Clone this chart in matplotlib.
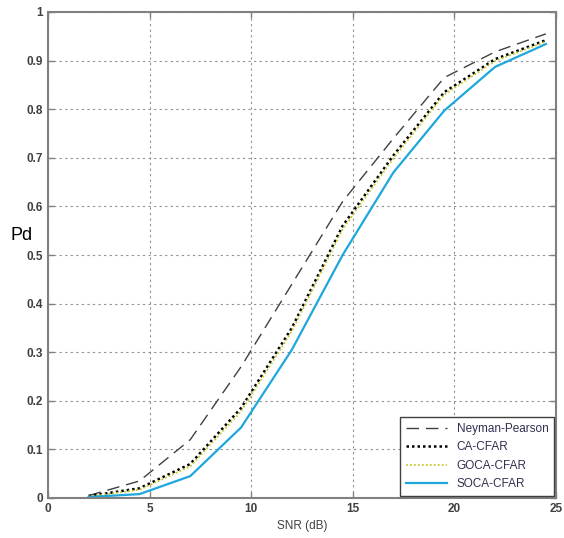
import matplotlib
matplotlib.use('Agg')
import matplotlib.pyplot as plt

# SNR points (dB) and detection probabilities
snr = [2, 4.5, 7, 9.5, 12, 14.5, 17, 19.5, 22, 24.5]
pd_np = [0.005, 0.035, 0.120, 0.270, 0.440, 0.610, 0.740, 0.865, 0.918, 0.955]
pd_ca = [0.004, 0.020, 0.070, 0.185, 0.350, 0.560, 0.705, 0.835, 0.903, 0.942]
pd_goca = [0.003, 0.017, 0.065, 0.178, 0.343, 0.553, 0.699, 0.830, 0.899, 0.939]
pd_soca = [0.002, 0.008, 0.045, 0.145, 0.305, 0.500, 0.670, 0.797, 0.887, 0.934]

plt.rcParams['font.family'] = ['Liberation Sans', 'DejaVu Sans']

fig = plt.figure(figsize=(5.64, 5.38), dpi=100)
ax = fig.add_axes([48 / 564, 1 - 498 / 538, 508 / 564, 486 / 538])

ax.plot(snr, pd_np, color='#404040', lw=1.0, dashes=(9, 5), label='Neyman-Pearson')
ax.plot(snr, pd_ca, color='black', lw=1.8, dashes=(1, 1.2), label='CA-CFAR')
ax.plot(snr, pd_goca, color='#c8c830', lw=1.3, dashes=(1, 1.2), label='GOCA-CFAR')
ax.plot(snr, pd_soca, color='#1ea7dc', lw=1.6, label='SOCA-CFAR')

ax.set_xlim(0, 25)
ax.set_ylim(0, 1)
ax.set_xticks([0, 5, 10, 15, 20, 25])
ax.set_yticks([i / 10 for i in range(11)])
ax.set_yticklabels(['0', '0.1', '0.2', '0.3', '0.4', '0.5', '0.6', '0.7', '0.8', '0.9', '1'])

ax.grid(True, color='#909090', lw=0.8, ls=(0, (2, 3)))
ax.tick_params(direction='in', length=4, width=1, colors='#808080',
               labelcolor='#404040', labelsize=8.5, top=True, right=True)
for lab in ax.get_xticklabels() + ax.get_yticklabels():
    lab.set_fontweight('bold')
for sp in ax.spines.values():
    sp.set_color('#808080')
    sp.set_linewidth(1.5)

ax.set_xlabel('SNR (dB)', fontsize=8.5, color='#404040', labelpad=4)
ax.set_ylabel('Pd', fontsize=13, rotation=0, color='black', va='center', ha='center')
ax.yaxis.set_label_coords(-0.052, 0.54)

leg = ax.legend(loc='lower right', fontsize=8.5, frameon=True, fancybox=False,
                edgecolor='#404040', framealpha=1, borderaxespad=0.15,
                handlelength=3.5, labelspacing=0.55, borderpad=0.5)
leg.get_frame().set_linewidth(1.0)
for t in leg.get_texts():
    t.set_color('#303050')

fig.savefig('out.png', dpi=100)
